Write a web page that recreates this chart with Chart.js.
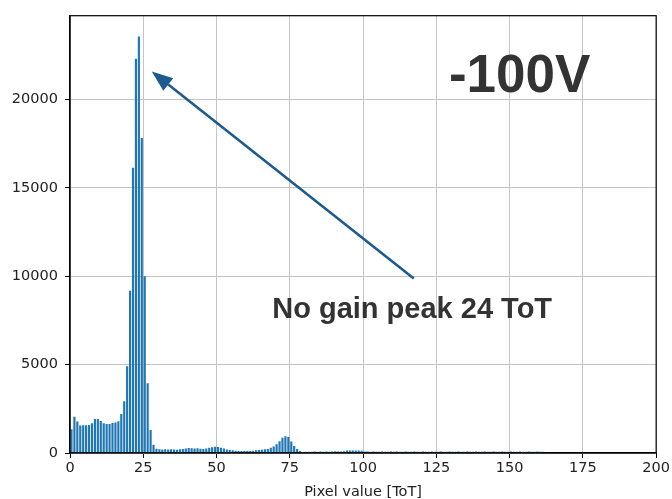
<!DOCTYPE html>
<html>
<head>
<meta charset="utf-8">
<script src="https://cdn.jsdelivr.net/npm/chart.js@4/dist/chart.umd.min.js"></script>
<style>
body{margin:0;background:#fff;}
</style>
</head>
<body>
<canvas id="chart" width="672" height="499"></canvas>
<script>

// DATA (counts per ToT bin, bin i = [i, i+1))
const counts = [
1340,2050,1780,1550,1570,1570,1590,1680,1920,1920,
1810,1680,1640,1640,1700,1720,1790,2200,2930,4900,
9180,16130,22290,23550,17810,9990,3950,1300,470,240,
210,200,210,200,210,200,190,210,220,260,
280,270,260,270,240,220,250,290,330,350,
340,300,250,200,170,150,130,120,110,110,
110,120,130,150,170,190,210,230,290,370,
500,670,860,950,900,650,400,230,120,60,
70,75,75,80,75,80,75,80,75,85,
95,90,85,95,140,145,140,145,140,130,
85,80,75,80,75,75,80,75,75,80,
75,80,75,75,80,75,75,80,75,75,
80,75,75,80,75,75,80,75,75,80,
75,75,80,75,75,80,75,75,80,75,
75,80,75,75,80,75,75,80,75,75,
80,75,75,80,75,75,80,75,75,80,
75,70
];

const xTicks = [0, 25, 50, 75, 100, 125, 150, 175, 200];
const yTicks = [0, 5000, 10000, 15000, 20000];
const xLabel = "Pixel value [ToT]";

// annotation in data units
const voltText = "-100V";
const voltPos = [129.3, 20390];
const peakText = "No gain peak 24 ToT";
const peakPos = [69, 7630];
const arrowFrom = [117.3, 9870];
const arrowTo = [27.9, 21570];

const barData = counts.map((c, i) => ({x: i + 0.5, y: c}));

// BOX + ANNOTATION
const extras = {
id: "extras",
afterDraw(chart){
const ctx = chart.ctx;
const a = chart.chartArea;
const sx = chart.scales.x, sy = chart.scales.y;

ctx.save();
ctx.strokeStyle = "#000";
ctx.lineWidth = 1.2;
ctx.strokeRect(a.left, a.top, a.right - a.left, a.bottom - a.top);

// arrow
let x1 = sx.getPixelForValue(arrowFrom[0]), y1 = sy.getPixelForValue(arrowFrom[1]);
let x2 = sx.getPixelForValue(arrowTo[0]), y2 = sy.getPixelForValue(arrowTo[1]);
let ang = Math.atan2(y2 - y1, x2 - x1);
let hl = 21, hw = 8;
let bx = x2 - hl * Math.cos(ang), by = y2 - hl * Math.sin(ang);
ctx.strokeStyle = "#1d5a8e";
ctx.fillStyle = "#1d5a8e";
ctx.lineWidth = 2.6;
ctx.beginPath();
ctx.moveTo(x1, y1);
ctx.lineTo(bx, by);
ctx.stroke();
ctx.beginPath();
ctx.moveTo(x2, y2);
ctx.lineTo(bx + hw * Math.sin(ang), by - hw * Math.cos(ang));
ctx.lineTo(bx - hw * Math.sin(ang), by + hw * Math.cos(ang));
ctx.closePath();
ctx.fill();

// texts
ctx.fillStyle = "#333";
ctx.textBaseline = "alphabetic";
ctx.textAlign = "left";
ctx.font = "bold 53px 'Liberation Sans', Arial, sans-serif";
ctx.fillText(voltText, sx.getPixelForValue(voltPos[0]), sy.getPixelForValue(voltPos[1]));
ctx.font = "bold 29px 'Liberation Sans', Arial, sans-serif";
ctx.fillText(peakText, sx.getPixelForValue(peakPos[0]), sy.getPixelForValue(peakPos[1]));
ctx.restore();
}
};

const tickFont = {family: "'DejaVu Sans', sans-serif", size: 14.5};

new Chart(document.getElementById("chart"), {
type: "bar",
data: {
datasets: [{
data: barData,
backgroundColor: "#1f77b4",
borderWidth: 0,
barPercentage: 0.74,
categoryPercentage: 1
}]
},
options: {
responsive: false,
animation: false,
layout: {padding: {top: 12, right: 14, left: 0, bottom: 0}},
plugins: {legend: {display: false}, tooltip: {enabled: false}},
scales: {
x: {
type: "linear",
min: 0,
max: 200,
z: 1,
offset: false,
afterBuildTicks: s => { s.ticks = xTicks.map(v => ({value: v})); },
afterFit: s => { s.height = 46; },
ticks: {font: tickFont, color: "#222", padding: 2, maxRotation: 0, autoSkip: false, callback: v => String(v)},
grid: {offset: false, color: "#c4c4c4", lineWidth: 1, tickColor: "#000", tickLength: 5},
border: {color: "#000", width: 1.2},
title: {display: true, text: xLabel, font: tickFont, color: "#222", padding: {top: 0, bottom: -2}}
},
y: {
min: 0,
max: 24730,
z: 1,
afterBuildTicks: s => { s.ticks = yTicks.map(v => ({value: v})); },
afterFit: s => { s.width = 70; },
ticks: {font: tickFont, color: "#222", padding: 7, callback: v => String(v)},
grid: {offset: false, color: "#c4c4c4", lineWidth: 1, tickColor: "#000", tickLength: 5},
border: {color: "#000", width: 1.2}
}
}
},
plugins: [extras]
});

</script>
</body>
</html>
